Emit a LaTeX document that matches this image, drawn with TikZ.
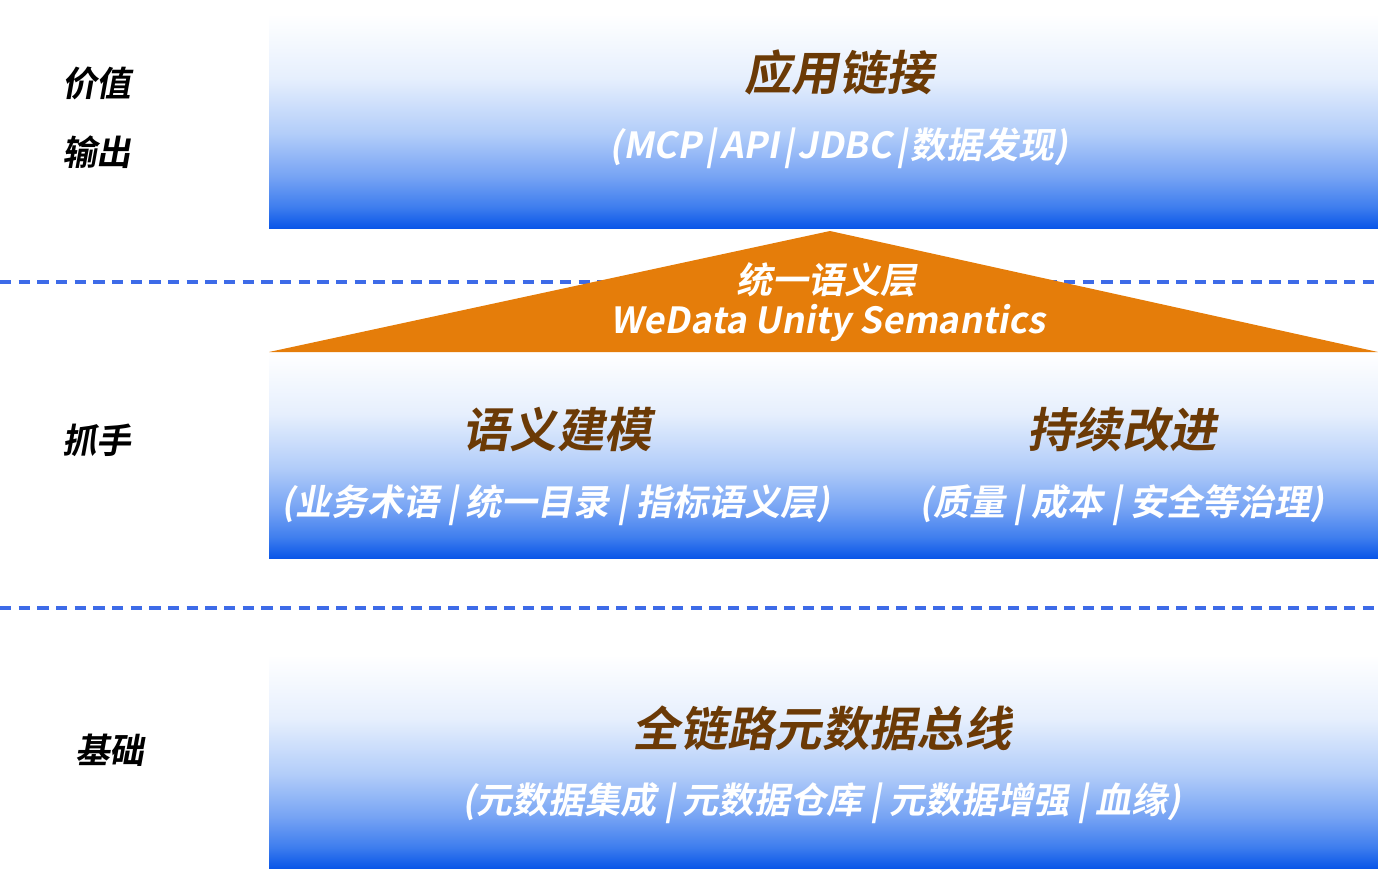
\documentclass[tikz,border=0pt]{standalone}
\usepackage{fontspec}
\newfontfamily\cjk[FakeSlant=0.18,BoldFont={Noto Sans CJK SC Bold},BoldFeatures={FakeSlant=0.18}]{Noto Sans CJK SC}
\definecolor{gblue}{HTML}{0A56E8}
\definecolor{gb2}{HTML}{3F7EEE}
\definecolor{gb3}{HTML}{76A3F4}
\definecolor{gb4}{HTML}{B2CDF9}
\definecolor{gb5}{HTML}{E6EFFD}
\definecolor{dashblue}{HTML}{3D6BE8}
\definecolor{tribg}{HTML}{E57D0A}
\definecolor{titlebrown}{HTML}{6B3A06}
\newcommand{\vsep}[1]{\hspace{#1}|\hspace{#1}}
\pgfdeclareverticalshading{bluegrad}{100bp}{color(0bp)=(gblue); color(25bp)=(gblue); color(30bp)=(gb2); color(37bp)=(gb3); color(47bp)=(gb4); color(60bp)=(gb5); color(75bp)=(white); color(100bp)=(white)}
\tikzset{
  layerbox/.style={shading=bluegrad, draw=none},
  sidelabel/.style={font=\cjk\bfseries\fontsize{26}{30}\selectfont, text=black, inner sep=0pt, anchor=west},
  boxtitle/.style={font=\cjk\bfseries\fontsize{35.5}{40}\selectfont, text=titlebrown, inner sep=0pt},
  boxsub/.style={font=\cjk\bfseries\fontsize{27}{32}\selectfont, text=white, inner sep=0pt},
  tritext/.style={font=\cjk\bfseries\fontsize{27}{32}\selectfont, text=white, inner sep=0pt},
  sepline/.style={draw=dashblue, line width=2.4pt, dash pattern=on 8.5pt off 5.5pt}
}
\begin{document}
\begin{tikzpicture}[x=0.75pt,y=-0.75pt]
\useasboundingbox (0,0) rectangle (1378,870);
% dashed separators
\coordinate (d1a) at (0,282); \coordinate (d1b) at (1378,282);
\coordinate (d2a) at (0,608); \coordinate (d2b) at (1378,608);
\draw[sepline] (d1a) -- (d1b);
\draw[sepline] (d2a) -- (d2b);
% boxes
\path[layerbox] (269,14) rectangle (1378,228);
\path[layerbox] (269,352) rectangle (1378,558);
\path[layerbox] (269,655) rectangle (1378,868);
% triangle
\coordinate (apex) at (830,231);
\coordinate (bl) at (269,352);
\coordinate (br) at (1378,352);
\fill[tribg] (bl) -- (apex) -- (br) -- cycle;
% side labels
\node[sidelabel] (l1) at (62,83) {价值};
\node[sidelabel] (l2) at (62,152) {输出};
\node[sidelabel] (l3) at (62,440) {抓手};
\node[sidelabel] (l4) at (75,750) {基础};
% top box
\node[boxtitle] (t1) at (839,72) {应用链接};
\node[boxsub] (s1) at (839,148) {(MCP\vsep{3pt}API\vsep{3pt}JDBC\vsep{3pt}数据发现)};
% triangle text
\node[tritext] (tr1) at (826,280) {统一语义层};
\node[tritext] (tr2) at (828,323) {WeData Unity Semantics};
% middle box
\node[boxtitle] (t2) at (557,430) {语义建模};
\node[boxsub] (s2) at (556,505) {(业务术语\vsep{6pt}统一目录\vsep{6pt}指标语义层)};
\node[boxtitle] (t3) at (1122,430) {持续改进};
\node[boxsub] (s3) at (1122,505) {(质量\vsep{6pt}成本\vsep{6pt}安全等治理)};
% bottom box
\node[boxtitle] (t4) at (822,728) {全链路元数据总线};
\node[boxsub] (s4) at (822,803) {(元数据集成\vsep{6pt}元数据仓库\vsep{6pt}元数据增强\vsep{6pt}血缘)};
\end{tikzpicture}
\end{document}
